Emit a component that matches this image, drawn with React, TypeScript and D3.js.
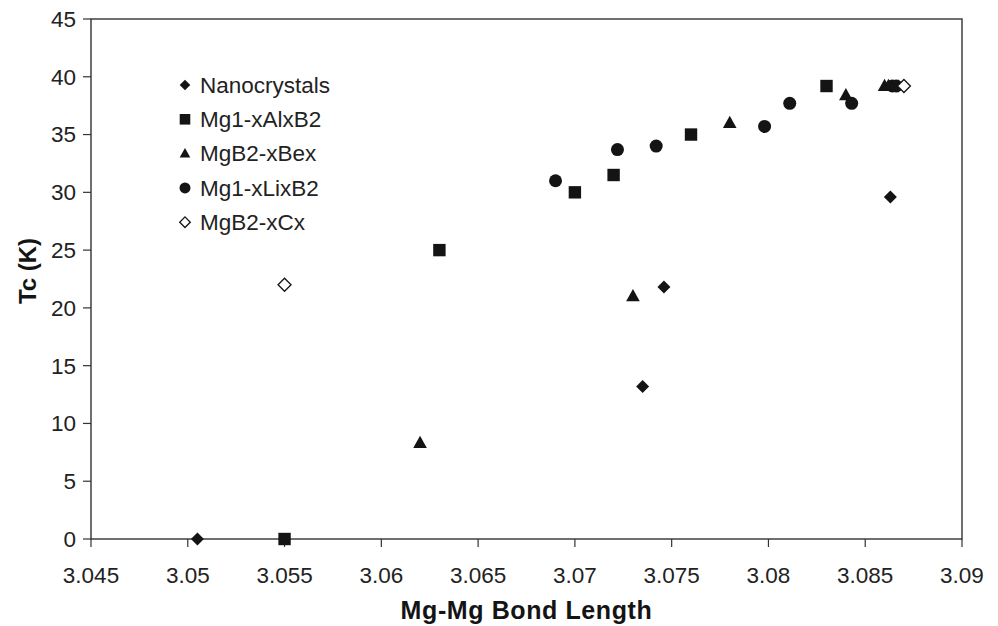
import React from 'react';
import * as d3 from 'd3';

// Tc versus Mg-Mg bond length for several doped MgB2 families
const xTicks = [3.045, 3.05, 3.055, 3.06, 3.065, 3.07, 3.075, 3.08, 3.085, 3.09];
const yTicks = [0, 5, 10, 15, 20, 25, 30, 35, 40, 45];

const nanoX = [3.0505, 3.0735, 3.0746, 3.0863, 3.0867];
const nanoY = [0, 13.2, 21.8, 29.6, 39.2];

const alX = [3.055, 3.063, 3.07, 3.072, 3.076, 3.083];
const alY = [0, 25, 30, 31.5, 35, 39.2];

const beX = [3.062, 3.073, 3.078, 3.084, 3.086, 3.0862];
const beY = [8.3, 21, 36, 38.4, 39.2, 39.2];

const liX = [3.069, 3.0722, 3.0742, 3.0798, 3.0811, 3.0843, 3.0864, 3.0866];
const liY = [31, 33.7, 34.0, 35.7, 37.7, 37.7, 39.2, 39.2];

const cX = [3.055, 3.087];
const cY = [22, 39.2];

const seriesNames = ['Nanocrystals', 'Mg1-xAlxB2', 'MgB2-xBex', 'Mg1-xLixB2', 'MgB2-xCx'];
const seriesShapes = ['diamond', 'square', 'triangle', 'circle', 'openDiamond'];

const series = [
  { xs: nanoX, ys: nanoY },
  { xs: alX, ys: alY },
  { xs: beX, ys: beY },
  { xs: liX, ys: liY },
  { xs: cX, ys: cY },
];

const W = 998;
const H = 626;
const margin = { left: 91, right: 36, top: 19, bottom: 87 };
const ink = '#141414';

// returns a path for a marker centred at 0,0 with half-size r
const shapePath = (kind: string, r: number) => {
  if (kind === 'square') return `M${-r},${-r}H${r}V${r}H${-r}Z`;
  if (kind === 'triangle') {
    const h = r * 1.8;
    return `M0,${-h * 0.6}L${r},${h * 0.4}L${-r},${h * 0.4}Z`;
  }
  if (kind === 'circle') return `M${r},0A${r},${r} 0 1,1 ${-r},0A${r},${r} 0 1,1 ${r},0Z`;
  return `M0,${-r}L${r},0L0,${r}L${-r},0Z`;
};

const Marker = ({ kind, x, y, r }: { kind: string; x: number; y: number; r: number }) => {
  const open = kind === 'openDiamond';
  return (
    <path
      d={shapePath(kind, r)}
      transform={`translate(${x},${y})`}
      fill={open ? '#fff' : ink}
      stroke={ink}
      strokeWidth={open ? 1.3 : 0}
    />
  );
};

export default function App() {
  const x = d3.scaleLinear().domain([3.045, 3.09]).range([margin.left, W - margin.right]);
  const y = d3.scaleLinear().domain([0, 45]).range([H - margin.bottom, margin.top]);
  const x0 = x.range()[0];
  const x1 = x.range()[1];
  const y0 = y.range()[0];
  const y1 = y.range()[1];

  const sizeFor = (kind: string) => (kind === 'circle' ? 6.5 : kind === 'square' ? 6.2 : kind === 'triangle' ? 6.8 : 6.5);

  return (
    <svg width={W} height={H} style={{ position: 'absolute', left: 0, top: 0, background: '#fff' }}
      fontFamily="'Liberation Sans', Arial, sans-serif">
      <rect x={0} y={0} width={W} height={H} fill="#fff" />
      {/* frame */}
      <rect x={x0} y={y1} width={x1 - x0} height={y0 - y1} fill="none" stroke="#333" strokeWidth={1.4} />

      {/* y axis */}
      {yTicks.map((t) => (
        <g key={'y' + t}>
          <line x1={x0 - 8} x2={x0} y1={y(t)} y2={y(t)} stroke="#333" strokeWidth={1.2} />
          <text x={x0 - 15} y={y(t)} dy="0.35em" textAnchor="end" fontSize={22.5} fill="#222">
            {t}
          </text>
        </g>
      ))}

      {/* x axis */}
      {xTicks.map((t) => (
        <g key={'x' + t}>
          <line x1={x(t)} x2={x(t)} y1={y0} y2={y0 + 8} stroke="#333" strokeWidth={1.2} />
          <text x={x(t)} y={y0 + 44} textAnchor="middle" fontSize={22.5} fill="#222">
            {d3.format('')(t)}
          </text>
        </g>
      ))}

      <text x={(x0 + x1) / 2} y={619} textAnchor="middle" fontSize={25} fontWeight="bold" fill={ink} letterSpacing={0.6}>
        Mg-Mg Bond Length
      </text>
      <text transform={`translate(36,${(y0 + y1) / 2 - 8}) rotate(-90)`} textAnchor="middle" fontSize={24}
        fontWeight="bold" fill={ink}>
        Tc (K)
      </text>

      {/* points */}
      {series.map((s, i) =>
        s.xs.map((xv, j) => (
          <Marker key={`${i}-${j}`} kind={seriesShapes[i]} x={x(xv)} y={y(s.ys[j])} r={sizeFor(seriesShapes[i])} />
        ))
      )}

      {/* legend */}
      {seriesNames.map((name, i) => (
        <g key={name} transform={`translate(185,${85 + i * 34.3})`}>
          <Marker kind={seriesShapes[i]} x={0} y={0} r={seriesShapes[i] === 'circle' ? 5.5 : 5.3} />
          <text x={15} y={0} dy="0.35em" fontSize={22.5} fill="#222">
            {name}
          </text>
        </g>
      ))}
    </svg>
  );
}
